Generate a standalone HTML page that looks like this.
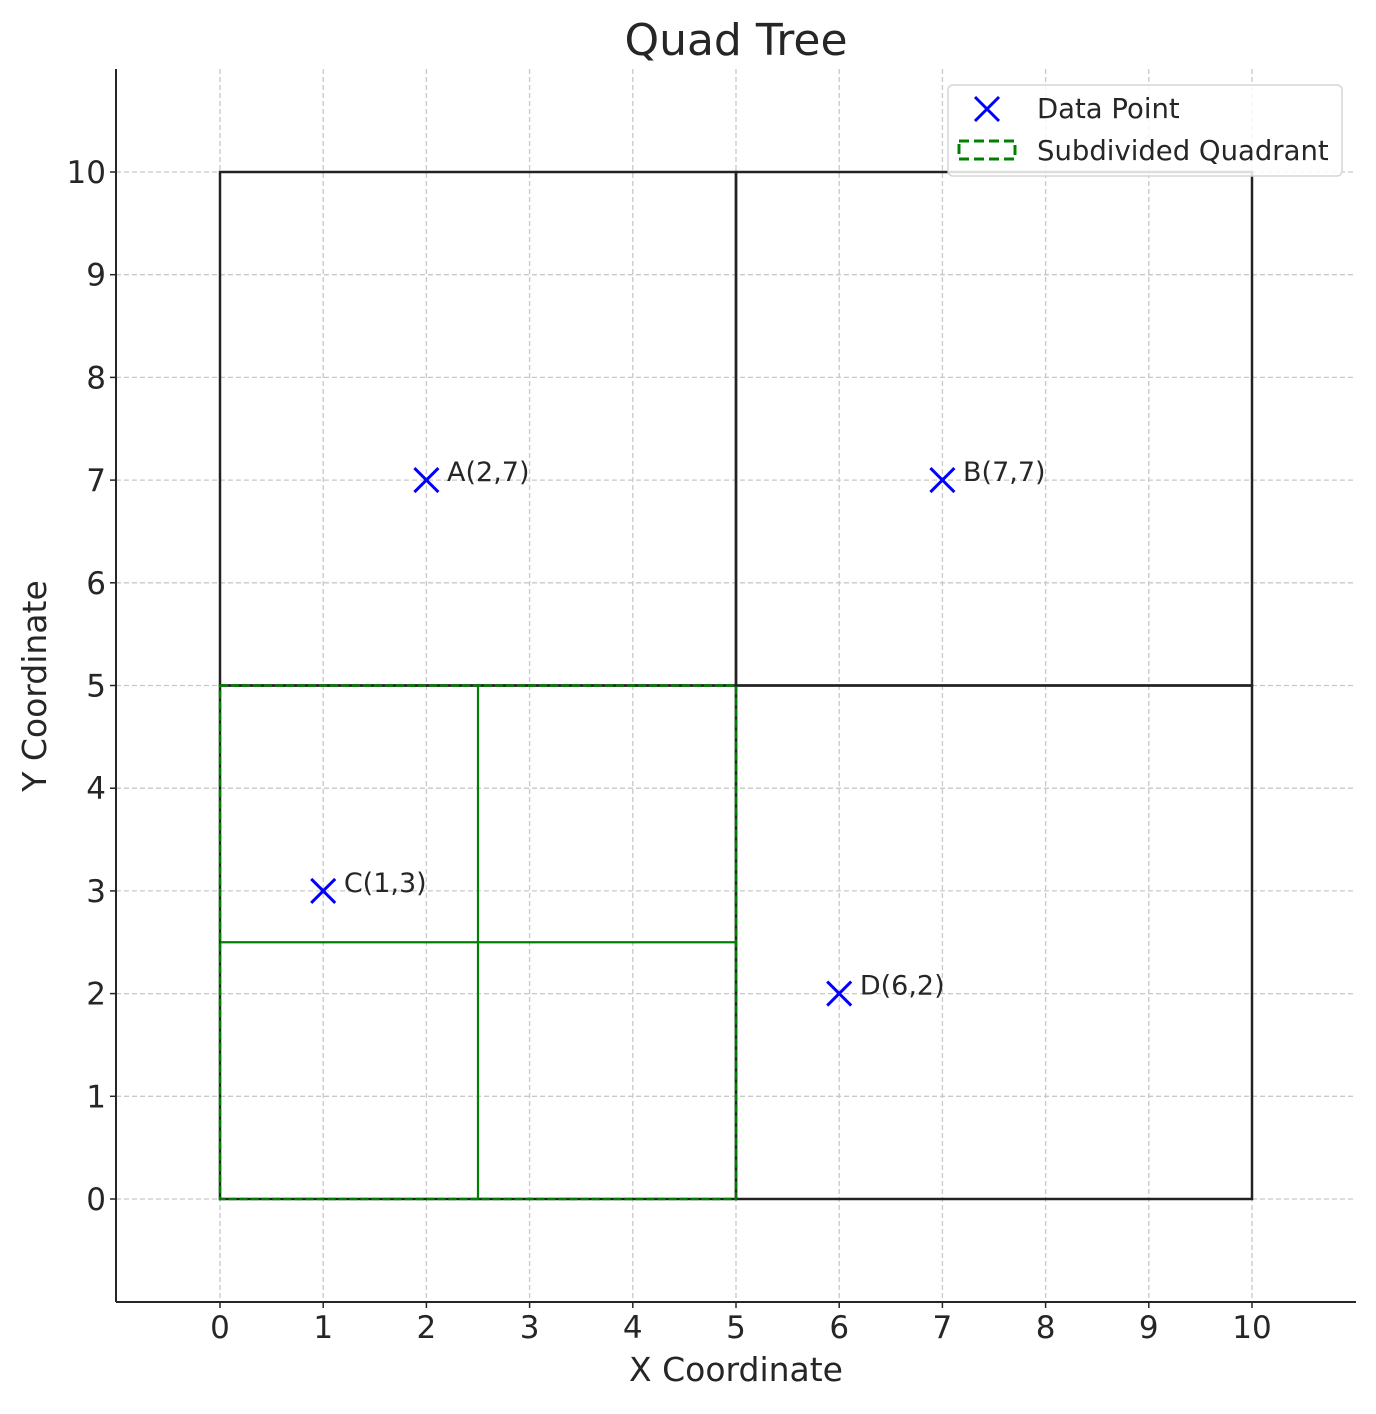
<!DOCTYPE html>
<html><head><meta charset="utf-8"><style>
body{margin:0;background:#fff}
svg text{font-family:"DejaVu Sans","Liberation Sans",sans-serif;fill:#262626}
</style></head><body>
<svg id="c" width="1376" height="1409" xmlns="http://www.w3.org/2000/svg"></svg>
<script>
const xTicks=[0,1,2,3,4,5,6,7,8,9,10];
const yTicks=[0,1,2,3,4,5,6,7,8,9,10];
const pointNames=["A","B","C","D"];
const pointX=[2,7,1,6];
const pointY=[7,7,3,2];
const quadX=[0,5,0,5];
const quadY=[5,5,0,0];
const quadW=[5,5,5,5];
const subX=[0];const subY=[0];const subW=[5];
const xs=v=>220+v*103.2, ys=v=>1199-v*102.7;
const svg=document.getElementById('c');const NS='http://www.w3.org/2000/svg';
function el(t,a,p){const e=document.createElementNS(NS,t);for(const k in a)e.setAttribute(k,a[k]);(p||svg).appendChild(e);return e;}
xTicks.forEach(v=>{const l=el('line',{x1:xs(v),x2:xs(v),y1:69,y2:1302,stroke:'#c8c8c8','stroke-width':1.3,'stroke-dasharray':'5,3'});


const t=el('text',{x:xs(v),y:1338,'text-anchor':'middle','font-size':31});t.textContent=v;


el('line',{x1:xs(v),x2:xs(v),y1:1302,y2:1308,stroke:'#262626','stroke-width':1.5});});
yTicks.forEach(v=>{const l=el('line',{x1:116,x2:1356,y1:ys(v),y2:ys(v),stroke:'#c8c8c8','stroke-width':1.3,'stroke-dasharray':'5,3'});


const t=el('text',{x:106,y:ys(v)+11,'text-anchor':'end','font-size':31});t.textContent=v;


el('line',{x1:110,x2:116,y1:ys(v),y2:ys(v),stroke:'#262626','stroke-width':1.5});});
quadX.forEach((q,i)=>{const r=el('rect',{x:xs(q),y:ys(quadY[i]+quadW[i]),width:xs(quadW[i])-xs(0),height:ys(0)-ys(quadW[i]),fill:'none',stroke:'#222','stroke-width':2.5});

});
subX.forEach((s,i)=>{const w=subW[i],h=w/2;
const r=el('rect',{x:xs(s),y:ys(subY[i]+w),width:xs(w)-xs(0),height:ys(0)-ys(w),fill:'none',stroke:'#008000','stroke-width':2.5,'stroke-dasharray':'8,3'});


const a=el('line',{x1:xs(s+h),x2:xs(s+h),y1:ys(subY[i]),y2:ys(subY[i]+w),stroke:'#008000','stroke-width':2.2});


const b=el('line',{x1:xs(s),x2:xs(s+w),y1:ys(subY[i]+h),y2:ys(subY[i]+h),stroke:'#008000','stroke-width':2.2});

});
pointX.forEach((x,i)=>{const cx=xs(x),cy=ys(pointY[i]),d=12;
const g=el('g',{});


el('path',{d:`M${cx-d} ${cy-d}L${cx+d} ${cy+d}M${cx-d} ${cy+d}L${cx+d} ${cy-d}`,stroke:'#0000ff','stroke-width':3},g);
const t=el('text',{x:xs(x+0.2),y:cy+1,'font-size':27},g);t.textContent=`${pointNames[i]}(${x},${pointY[i]})`;});
el('line',{x1:116,x2:116,y1:69,y2:1302,stroke:'#262626','stroke-width':2});
el('line',{x1:116,x2:1356,y1:1302,y2:1302,stroke:'#262626','stroke-width':2});
</script>
<svg style="position:absolute;left:0;top:0" width="1376" height="1409" xmlns="http://www.w3.org/2000/svg">
<text x="736" y="55" text-anchor="middle" font-size="44">Quad Tree</text>
<text x="736" y="1381" text-anchor="middle" font-size="33">X Coordinate</text>
<text transform="translate(46,686) rotate(-90)" text-anchor="middle" font-size="33">Y Coordinate</text>
<g>
<rect x="948" y="85" width="394" height="91" rx="5" fill="#fff" fill-opacity="0.85" stroke="#d6d6d6" stroke-width="1.5"/>
<path d="M975 97L999 121M975 121L999 97" stroke="#0000ff" stroke-width="3"/>
<text x="1037" y="118" font-size="27.5">Data Point</text>
<rect x="959" y="141" width="56" height="18" fill="none" stroke="#008000" stroke-width="3" stroke-dasharray="10,5"/>
<text x="1037" y="160" font-size="27.5">Subdivided Quadrant</text>
</g>
</svg>
</body></html>
